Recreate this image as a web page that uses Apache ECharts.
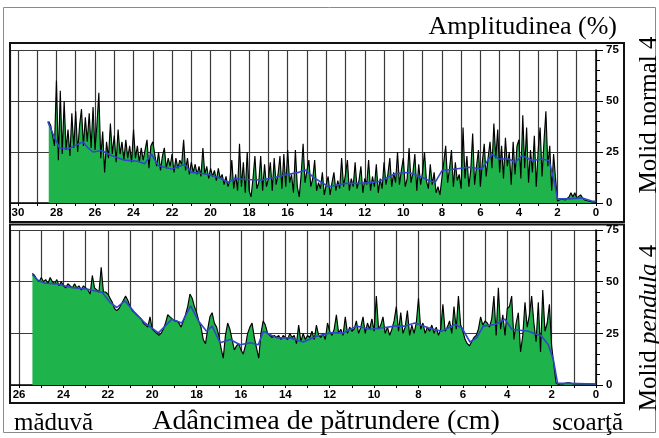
<!DOCTYPE html>
<html>
<head>
<meta charset="utf-8">
<script src="https://cdn.jsdelivr.net/npm/echarts@6/dist/echarts.min.js"></script>
<style>html,body{margin:0;padding:0;background:#fff}#c{width:659px;height:438px}</style>
</head>
<body>
<div id="c"></div>
<script>
// ---- data (depth in cm, amplitude in %) ----
const stepCm = 0.1;
const topStartDepth = 28.4;      // Molid normal 4, first sample
const bottomStartDepth = 25.4;   // Molid pendula 4, first sample

const topValues = [
  40, 38, 33, 28, 60,
  21, 55, 24, 50, 26, 36, 23, 44, 27, 45,
  25, 38, 46, 28, 42, 30, 44, 27, 47, 26,
  38, 54, 22, 35, 15, 30, 22, 39, 24, 33,
  20, 36, 24, 30, 21, 31, 22, 28, 20, 36,
  22, 28, 20, 27, 21, 26, 31, 17, 28, 30,
  24, 18, 25, 16, 23, 27, 17, 22, 18, 24,
  15, 22, 17, 21, 19, 31, 16, 22, 14, 20,
  15, 19, 14, 18, 13, 27, 14, 18, 12, 17,
  13, 16, 11, 17, 12, 14, 9, 13, 8, 11,
  21, 7, 14, 6, 29, 8, 20, 5, 25, 6,
  3, 12, 23, 7, 10, 23, 6, 19, 8, 12,
  20, 6, 22, 9, 14, 23, 7, 24, 8, 26,
  10, 14, 5, 26, 8, 3, 14, 29, 10, 16,
  21, 8, 12, 21, 6, 10, 7, 15, 4, 9,
  13, 4, 10, 15, 6, 11, 7, 22, 8, 14,
  21, 6, 12, 8, 20, 7, 11, 18, 5, 12,
  9, 21, 6, 13, 8, 19, 5, 12, 7, 20,
  9, 14, 22, 8, 15, 10, 25, 9, 16, 22,
  8, 12, 27, 10, 15, 24, 6, 19, 9, 15,
  25, 11, 7, 19, 9, 15, 5, 8, 4, 12,
  20, 28, 10, 17, 26, 8, 20, 11, 14, 7,
  37, 12, 23, 8, 16, 34, 9, 18, 26, 8,
  20, 29, 13, 22, 30, 17, 39, 22, 36, 15,
  28, 12, 32, 18, 25, 9, 30, 14, 28, 31,
  12, 43, 17, 37, 10, 26, 15, 33, 8, 26,
  37, 13, 30, 45, 18, 28, 6, 24, 12, 1,
  1.5, 2, 2, 1.5, 2, 3, 5, 3, 5, 2.5,
  2, 4, 2.5, 1.5, 1, 1, 0.8, 0.5, 0.5, 0.5
];

const bottomValues = [
  54, 53, 51, 50, 52,
  50, 51, 49, 52, 50, 49, 51, 48, 50, 48,
  47, 49, 48, 47, 49, 47, 48, 46, 48, 47,
  46, 44, 53, 47, 46, 45, 57, 45, 45, 44,
  42, 40, 37, 36, 37, 39, 41, 43, 41, 38,
  36, 35, 34, 33, 32, 30, 29, 28, 33, 27,
  26, 25, 24, 25, 27, 30, 34, 33, 32, 31,
  31, 30, 28, 31, 34, 38, 44, 42, 38, 35,
  31, 28, 22, 20, 27, 33, 35, 30, 28, 24,
  18, 13, 24, 30, 27, 22, 17, 19, 20, 17,
  15, 19, 25, 28, 30, 23, 18, 13, 25, 31,
  29, 25, 24, 23, 24, 23, 24, 22, 24, 23,
  22, 25, 23, 24, 20, 29, 21, 25, 22, 24,
  23, 26, 22, 29, 24, 23, 25, 22, 30, 26,
  24, 27, 34, 25, 27, 24, 33, 25, 28, 26,
  27, 31, 25, 28, 33, 25, 30, 27, 32, 26,
  43, 27, 29, 33, 25, 28, 24, 27, 31, 38,
  26, 35, 25, 28, 36, 24, 29, 25, 30, 42,
  27, 30, 25, 28, 26, 29, 25, 28, 24, 27,
  39, 26, 28, 31, 25, 38, 27, 43, 29, 26,
  22, 20, 19, 21, 23, 24, 27, 33, 29, 31,
  30, 28, 32, 43, 24, 47, 27, 34, 24, 37,
  38, 43, 22, 30, 35, 16, 24, 40, 28, 34,
  43, 30, 21, 40, 16, 46, 26, 30, 39, 19,
  10, 1, 0.3, 0.5, 0.5, 0.8, 1, 1, 0.8, 0.5,
  0.5, 0.5, 0.5, 0.5, 0.5, 0.5, 0.5, 0.5, 0.5, 0.5
];

// smoothed (blue) curves: [depth, amplitude]
const blueTop = [
  [28.45,40],[28.1,32],[27.84,27],[27.4,26.5],[27.06,28],[26.62,30],[26.36,27],[26.1,25],
  [25.67,25.7],[25.15,23.3],[24.46,21],[23.76,20.5],[23.42,19.2],[23.07,24],[22.73,18.4],
  [22.03,16.7],[21.34,18.9],[20.99,15],[20.3,14.3],[19.61,12.6],[19.08,10.2],[18.74,12],
  [18.2,11.5],[17.35,11.3],[16.65,12.6],[16.14,13.7],[15.44,15],[15.1,16.2],[14.58,12],
  [13.88,8],[13.02,9.6],[12.15,9.6],[11.28,10.5],[10.42,14.3],[9.72,15],[9.03,12.6],
  [8.68,11],[8.34,10.2],[7.99,15.9],[7.3,16.7],[6.61,17.5],[5.91,16.7],[5.4,24],[5.05,21.6],
  [4.53,21.6],[4.18,20],[3.84,23.3],[3.31,20.8],[2.79,21.6],[2.44,20.8],[2.18,11],[2.0,2],
  [1.4,2],[0.71,2.5],[0.19,0.8],[0,0.8]
];
const blueBottom = [
  [25.4,53.4],[25.13,50.5],[24.83,49.2],[24.3,48.9],[23.63,47.2],[22.95,46.4],[22.25,44.8],
  [21.9,40],[21.6,37.5],[21.23,40.7],[20.78,35],[20.33,30],[19.72,25.2],[19.12,31.8],
  [18.67,30],[18.27,38.3],[17.92,31],[17.55,26],[17.3,28.5],[16.94,20.4],[16.49,22],
  [16.04,19.5],[15.59,20.4],[15.22,19.5],[14.99,26],[14.39,22.8],[13.79,22.8],[13.19,20.8],
  [12.59,23.6],[11.99,25.2],[11.39,25.2],[10.79,28.5],[10.18,27],[9.58,27.7],[9.06,28.5],
  [8.61,28.5],[8.16,30],[7.56,27.7],[6.96,26],[6.35,29.3],[6.05,27.7],[5.68,20.8],
  [5.38,22.8],[5.08,28.5],[4.55,29.3],[4.1,31.8],[3.8,27],[3.05,26],[2.45,23.6],
  [2.15,19.5],[1.92,12.2],[1.73,0.8],[1.25,0.8],[0,0.5]
];

const yTickLabels = [0, 25, 50, 75];
const topAxisMax = 30.41;
const bottomAxisMax = 26.41;

// ---- build ----
function toPairs(start, values) {
  return values.map((v, i) => [Math.round((start - i * stepCm) * 100) / 100, v]);
}
const topData = toPairs(topStartDepth, topValues);
const bottomData = toPairs(bottomStartDepth, bottomValues);

const GREEN = '#1fb34b';
const GRIDC = '#3a3a3a';
const LBLFONT = 'Liberation Sans, Arial, sans-serif';
const SERIF = 'Liberation Serif, Times New Roman, serif';

function mkX(gi, max) {
  return {
    type: 'value', gridIndex: gi, inverse: true, min: 0, max: max, interval: 1,
    axisLine: { show: true, onZero: false, lineStyle: { color: '#000', width: 1.5 } },
    axisTick: { show: true, inside: false, length: 3, lineStyle: { color: '#000', width: 1 } },
    axisLabel: {
      formatter: v => (Math.abs(v - Math.round(v)) < 1e-6 && Math.round(v) % 2 === 0 ? String(Math.round(v)) : ''),
      fontWeight: 'bold', fontSize: 11.5, color: '#000', margin: 4, fontFamily: LBLFONT
    },
    splitLine: { show: true, lineStyle: { color: GRIDC, width: 1.2 } }
  };
}
function mkY(gi) {
  return {
    type: 'value', gridIndex: gi, position: 'right', min: yTickLabels[0], max: yTickLabels[3], interval: 25,
    axisLine: { show: true, lineStyle: { color: '#000', width: 1.5 } },
    axisTick: { show: true, inside: false, length: 7, lineStyle: { color: '#000', width: 1 } },
    minorTick: { show: true, splitNumber: 5, length: 4, lineStyle: { color: '#000', width: 1 } },
    minorSplitLine: { show: false },
    axisLabel: { fontWeight: 'bold', fontSize: 11.5, color: '#000', margin: 10, fontFamily: LBLFONT },
    splitLine: { show: true, lineStyle: { color: GRIDC, width: 1.2 } }
  };
}
function areaSeries(xi, data) {
  return {
    type: 'line', xAxisIndex: xi, yAxisIndex: xi, data: data, symbol: 'none', silent: true,
    lineStyle: { color: '#000', width: 1.15 }, areaStyle: { color: GREEN, opacity: 1 }, z: 2
  };
}
function blueSeries(xi, data) {
  return {
    type: 'line', xAxisIndex: xi, yAxisIndex: xi, data: data, symbol: 'none', silent: true,
    lineStyle: { color: '#3246c8', width: 1.6 }, z: 3
  };
}
function txt(x, y, text, size, align, extra) {
  return Object.assign({
    type: 'text', x: x, y: y, silent: true, z: 10,
    style: { text: text, font: size + 'px ' + SERIF, fill: '#000',
      align: align, textAlign: align, verticalAlign: 'middle', textVerticalAlign: 'middle' }
  }, extra || {});
}

const chart = echarts.init(document.getElementById('c'), null, { renderer: 'canvas' });
chart.setOption({
  animation: false,
  backgroundColor: '#fff',
  grid: [
    { left: 10, right: 63, top: 50, height: 153 },
    { left: 10, right: 63, top: 230, height: 155 }
  ],
  xAxis: [mkX(0, topAxisMax), mkX(1, bottomAxisMax)],
  yAxis: [mkY(0), mkY(1)],
  series: [
    areaSeries(0, topData), blueSeries(0, blueTop),
    areaSeries(1, bottomData), blueSeries(1, blueBottom)
  ],
  graphic: [
    { type: 'rect', silent: true, z: 9, shape: { x: 3.5, y: 7.5, width: 652, height: 425 },
      style: { fill: 'none', stroke: '#8a8a8a', lineWidth: 1 } },
    { type: 'rect', silent: true, z: 9, shape: { x: 10, y: 43, width: 614, height: 179 },
      style: { fill: 'none', stroke: '#111', lineWidth: 2 } },
    { type: 'rect', silent: true, z: 9, shape: { x: 10, y: 224.5, width: 614, height: 178.5 },
      style: { fill: 'none', stroke: '#111', lineWidth: 2 } },
    txt(617, 27, 'Amplitudinea (%)', 26, 'right'),
    txt(14, 423, 'măduvă', 25, 'left'),
    txt(326, 422, 'Adâncimea de pătrundere (cm)', 28, 'center'),
    txt(623, 423, 'scoarţă', 25, 'right'),
    txt(649, 115, 'Molid normal 4', 25, 'center', { rotation: Math.PI / 2 }),
    {
      type: 'text', x: 649, y: 328, rotation: Math.PI / 2, silent: true, z: 10,
      style: {
        text: '{n|Molid }{i|pendula}{n| 4}', fill: '#000',
        align: 'center', textAlign: 'center', verticalAlign: 'middle', textVerticalAlign: 'middle',
        rich: {
          n: { fontFamily: SERIF, fontSize: 25, fill: '#000', color: '#000' },
          i: { fontFamily: SERIF, fontSize: 25, fontStyle: 'italic', fill: '#000', color: '#000' }
        }
      }
    }
  ]
});
</script>
</body>
</html>
